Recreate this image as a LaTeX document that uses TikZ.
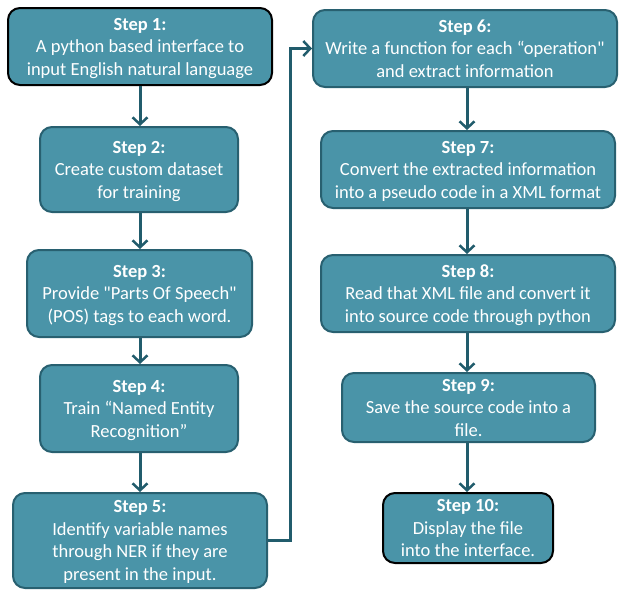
\documentclass[tikz,border=0pt]{standalone}
\usepackage{fontspec}
\setmainfont{Carlito}[Ligatures=TeXOff]
\usetikzlibrary{arrows.meta}
\definecolor{boxfill}{RGB}{74,148,168}
\definecolor{boxline}{RGB}{40,96,112}
\definecolor{flowline}{RGB}{33,92,108}
\tikzset{
  stepbox/.style={draw=boxline, line width=2pt, fill=boxfill, rounded corners=12pt,
    text=white, align=center, inner sep=0pt, text depth=0pt,
    font=\fontsize{18.5pt}{22.5pt}\selectfont},
  endbox/.style={stepbox, draw=black},
  flow/.style={draw=flowline, line width=3pt,
    -{Straight Barb[length=7pt,width=15pt,line width=2.5pt]}}
}
\newcommand{\stephead}[1]{\textbf{#1}}
\begin{document}
\begin{tikzpicture}[x=1pt,y=-1pt]
\useasboundingbox (0,0) rectangle (619,590);

% left column
\node[endbox, minimum width=264pt, minimum height=77pt] (s1) at (140,46.5)
  {\stephead{Step 1:}\\A python based interface to\\input English natural language};
\node[stepbox, minimum width=198pt, minimum height=85pt] (s2) at (139,169.5)
  {\stephead{Step 2:}\\Create custom dataset\\for training};
\node[stepbox, minimum width=225pt, minimum height=87pt] (s3) at (139.5,293.5)
  {\stephead{Step 3:}\\Provide "Parts Of Speech"\\(POS) tags to each word.};
\node[stepbox, minimum width=198pt, minimum height=87pt] (s4) at (139,408.5)
  {\stephead{Step 4:}\\Train “Named Entity\\Recognition”};
\node[stepbox, minimum width=254pt, minimum height=95pt] (s5) at (140,540.5)
  {\stephead{Step 5:}\\Identify variable names\\through NER if they are\\present in the input.};

% right column
\node[stepbox, minimum width=304pt, minimum height=77pt] (s6) at (465,48.5)
  {\stephead{Step 6:}\\Write a function for each “operation"\\and extract information};
\node[stepbox, minimum width=294pt, minimum height=77pt] (s7) at (468,169.5)
  {\stephead{Step 7:}\\Convert the extracted information\\into a pseudo code in a XML format};
\node[stepbox, minimum width=294pt, minimum height=77pt] (s8) at (468,293.5)
  {\stephead{Step 8:}\\Read that XML file and convert it\\into source code through python};
\node[stepbox, minimum width=253pt, minimum height=69pt] (s9) at (468.5,407.5)
  {\stephead{Step 9:}\\Save the source code into a\\file.};
\node[endbox, minimum width=170pt, minimum height=70pt] (s10) at (468,528)
  {\stephead{Step 10:}\\Display the file\\into the interface.};

% connectors
\coordinate (cl) at (140,0);
\coordinate (cr) at (467,0);
\draw[flow] (s1.south -| cl) -- (s2.north -| cl);
\draw[flow] (s2.south -| cl) -- (s3.north -| cl);
\draw[flow] (s3.south -| cl) -- (s4.north -| cl);
\draw[flow] (s4.south -| cl) -- (s5.north -| cl);
\coordinate (jog) at (290,0);
\draw[flow] (s5.east) -- (s5.east -| jog) -- (s6.west -| jog) -- (s6.west);
\draw[flow] (s6.south -| cr) -- (s7.north -| cr);
\draw[flow] (s7.south -| cr) -- (s8.north -| cr);
\draw[flow] (s8.south -| cr) -- (s9.north -| cr);
\draw[flow] (s9.south -| cr) -- (s10.north -| cr);
\end{tikzpicture}
\end{document}
